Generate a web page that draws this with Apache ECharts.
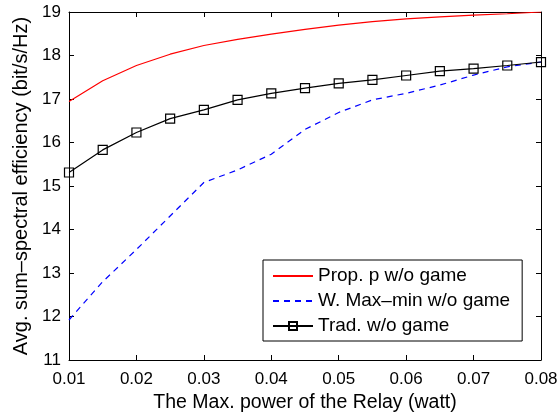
<!DOCTYPE html>
<html><head><meta charset="utf-8">
<script src="https://cdn.jsdelivr.net/npm/echarts@6/dist/echarts.min.js"></script>
<style>html,body{margin:0;padding:0;background:#fff}#c{width:560px;height:414px}</style>
</head><body><div id="c"></div>
<script>
const xValues = [0.01,0.015,0.02,0.025,0.03,0.035,0.04,0.045,0.05,0.055,0.06,0.065,0.07,0.075,0.08];
const propValues = [16.94,17.42,17.77,18.03,18.23,18.37,18.49,18.60,18.70,18.78,18.84,18.89,18.93,18.96,19.0];
const maxminValues = [11.92,12.80,13.54,14.31,15.08,15.37,15.73,16.30,16.69,16.98,17.13,17.32,17.55,17.74,17.85];
const tradValues = [15.31,15.83,16.23,16.55,16.75,16.98,17.13,17.25,17.36,17.44,17.54,17.64,17.70,17.77,17.85];
const seriesNames = ['Prop. p w/o game','W. Max\u2013min w/o game','Trad. w/o game'];

const font = 'Liberation Sans, Arial, Helvetica, sans-serif';
const pair = a => xValues.map((x,i)=>[x,a[i]]);
const chart = echarts.init(document.getElementById('c'), null, {renderer:'canvas'});
const axisCommon = {
  axisLine:{show:true,onZero:false,lineStyle:{color:'#000',width:1}},
  axisTick:{show:true,inside:true,length:5,lineStyle:{color:'#000'}},
  splitLine:{show:false}
};
chart.setOption({
  animation:false,
  backgroundColor:'#fff',
  grid:{left:69,right:19,top:12,bottom:54,containLabel:false,outerBoundsMode:'none'},
  legend:{
    left:263, top:260, orient:'vertical',
    backgroundColor:'#fff', borderColor:'#000', borderWidth:1,
    padding:[6,12,5,9], itemGap:5, itemWidth:40, itemHeight:10,
    textStyle:{fontFamily:font,fontSize:19,lineHeight:20,color:'#000'},
    data:[
      {name:seriesNames[0],itemStyle:{opacity:0}},
      {name:seriesNames[1],itemStyle:{opacity:0}},
      {name:seriesNames[2]}
    ]
  },
  xAxis:[
    Object.assign({type:'value',min:0.01,max:0.08,interval:0.01,
      name:'The Max. power of the Relay (watt)',nameLocation:'middle',nameGap:31,
      nameTextStyle:{fontFamily:font,fontSize:19.5,color:'#000'},
      axisLabel:{fontFamily:font,fontSize:17,color:'#000',margin:11,formatter:v=>v.toFixed(2)}},axisCommon),
    Object.assign({type:'value',position:'top',min:0.01,max:0.08,interval:0.01,axisLabel:{show:false}},axisCommon)
  ],
  yAxis:[
    Object.assign({type:'value',min:11,max:19,interval:1,
      name:'Avg. sum\u2013spectral efficiency (bit/s/Hz)',nameLocation:'middle',nameGap:38,
      nameTextStyle:{fontFamily:font,fontSize:20,color:'#000'},
      axisLabel:{fontFamily:font,fontSize:17,color:'#000',margin:8}},axisCommon),
    Object.assign({type:'value',position:'right',min:11,max:19,interval:1,axisLabel:{show:false}},axisCommon)
  ],
  series:[
    {name:seriesNames[0],type:'line',data:pair(propValues),showSymbol:false,symbol:'none',
      lineStyle:{color:'#ff0000',width:1.2},itemStyle:{color:'#ff0000'}},
    {name:seriesNames[1],type:'line',data:pair(maxminValues),showSymbol:false,symbol:'none',
      lineStyle:{color:'#0000ff',width:1.2,type:[6,5]},itemStyle:{color:'#0000ff'}},
    {name:seriesNames[2],type:'line',data:pair(tradValues),symbol:'rect',symbolSize:9,
      lineStyle:{color:'#000',width:1.2},
      itemStyle:{color:'rgba(0,0,0,0)',borderColor:'#000',borderWidth:1.2}}
  ]
});
</script></body></html>
